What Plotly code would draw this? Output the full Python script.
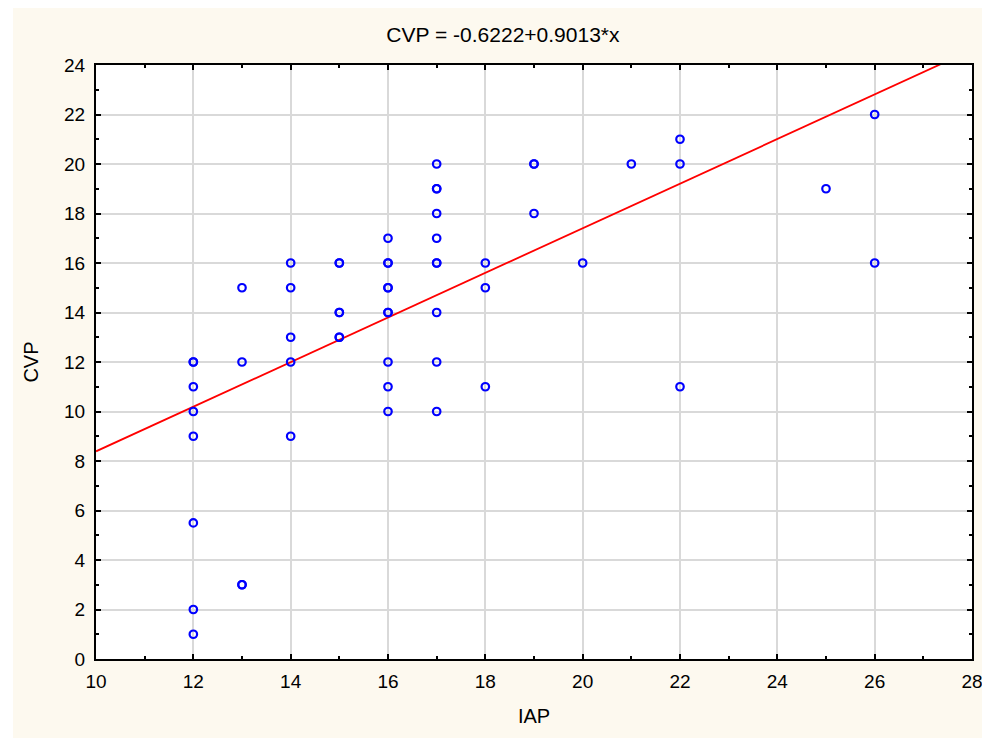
import plotly.graph_objects as go

# Data (duplicates reproduce the bolder circles)
iap = [12, 12, 12, 12, 12, 12, 12, 12,
       13, 13, 13, 13,
       14, 14, 14, 14, 14,
       15, 15, 15, 15, 15, 15,
       16, 16, 16, 16, 16, 16, 16, 16, 16, 16,
       17, 17, 17, 17, 17, 17, 17, 17, 17, 17,
       18, 18, 18,
       19, 19, 19,
       20, 21,
       22, 22, 22,
       25, 26, 26]
cvp = [12, 12, 11, 10, 9, 5.5, 2, 1,
       15, 12, 3, 3,
       16, 15, 13, 12, 9,
       16, 16, 14, 14, 13, 13,
       17, 16, 16, 15, 15, 14, 14, 12, 11, 10,
       20, 19, 19, 18, 17, 16, 16, 14, 12, 10,
       16, 15, 11,
       20, 20, 18,
       16, 20,
       21, 20, 11,
       19, 22, 16]

intercept = -0.6222
slope = 0.9013
fit_x = [10, 28]
fit_y = [intercept + slope * v for v in fit_x]

x_ticks = [10, 12, 14, 16, 18, 20, 22, 24, 26, 28]
y_ticks = [0, 2, 4, 6, 8, 10, 12, 14, 16, 18, 20, 22, 24]

title_text = "CVP = -0.6222+0.9013*x"

fig = go.Figure()
fig.add_trace(go.Scatter(
    x=fit_x, y=fit_y, mode="lines",
    line=dict(color="#ff0000", width=1.8),
    hoverinfo="skip", showlegend=False))
fig.add_trace(go.Scatter(
    x=iap, y=cvp, mode="markers",
    marker=dict(symbol="circle-open", size=7.5, color="#0000ff",
                line=dict(width=2.2, color="#0000ff")),
    showlegend=False))

tick_font = dict(family="Liberation Sans, Arial, sans-serif", size=19, color="#000000")
title_font = dict(family="Liberation Sans, Arial, sans-serif", size=20, color="#000000")
main_title_font = dict(family="Liberation Sans, Arial, sans-serif", size=21, color="#000000")

axis_common = dict(
    showline=True, linecolor="#000000", linewidth=2, mirror="ticks",
    ticks="inside", ticklen=5, tickwidth=1.5, tickcolor="#000000",
    showgrid=True, gridcolor="#d9d9d9", gridwidth=1.5,
    zeroline=False, tickfont=tick_font, automargin=False,
    minor=dict(ticks="inside", ticklen=3, tickwidth=1.5, tickcolor="#000000",
               dtick=1, showgrid=False),
)

fig.update_xaxes(range=[10, 28], tickvals=x_ticks, ticklabelstandoff=4,
                 title=dict(text="IAP", font=title_font, standoff=18),
                 **axis_common)
fig.update_yaxes(range=[0, 24], tickvals=y_ticks, ticklabelstandoff=5,
                 title=dict(text="CVP", font=title_font, standoff=20),
                 **axis_common)

fig.update_layout(
    width=982, height=730,
    margin=dict(l=88, r=18, t=57, b=79),
    paper_bgcolor="#fdf9ef", plot_bgcolor="#ffffff",
    font=tick_font,
    title=dict(text=title_text, x=0.504, xanchor="center", y=0.963,
               yanchor="middle", font=main_title_font),
    shapes=[
        dict(type="rect", xref="paper", yref="paper",
             x0=-0.2, x1=-83 / 876, y0=-0.2, y1=1.2,
             fillcolor="#ffffff", line=dict(width=0), layer="below"),
    ],
)

fig.write_html("out.html")
